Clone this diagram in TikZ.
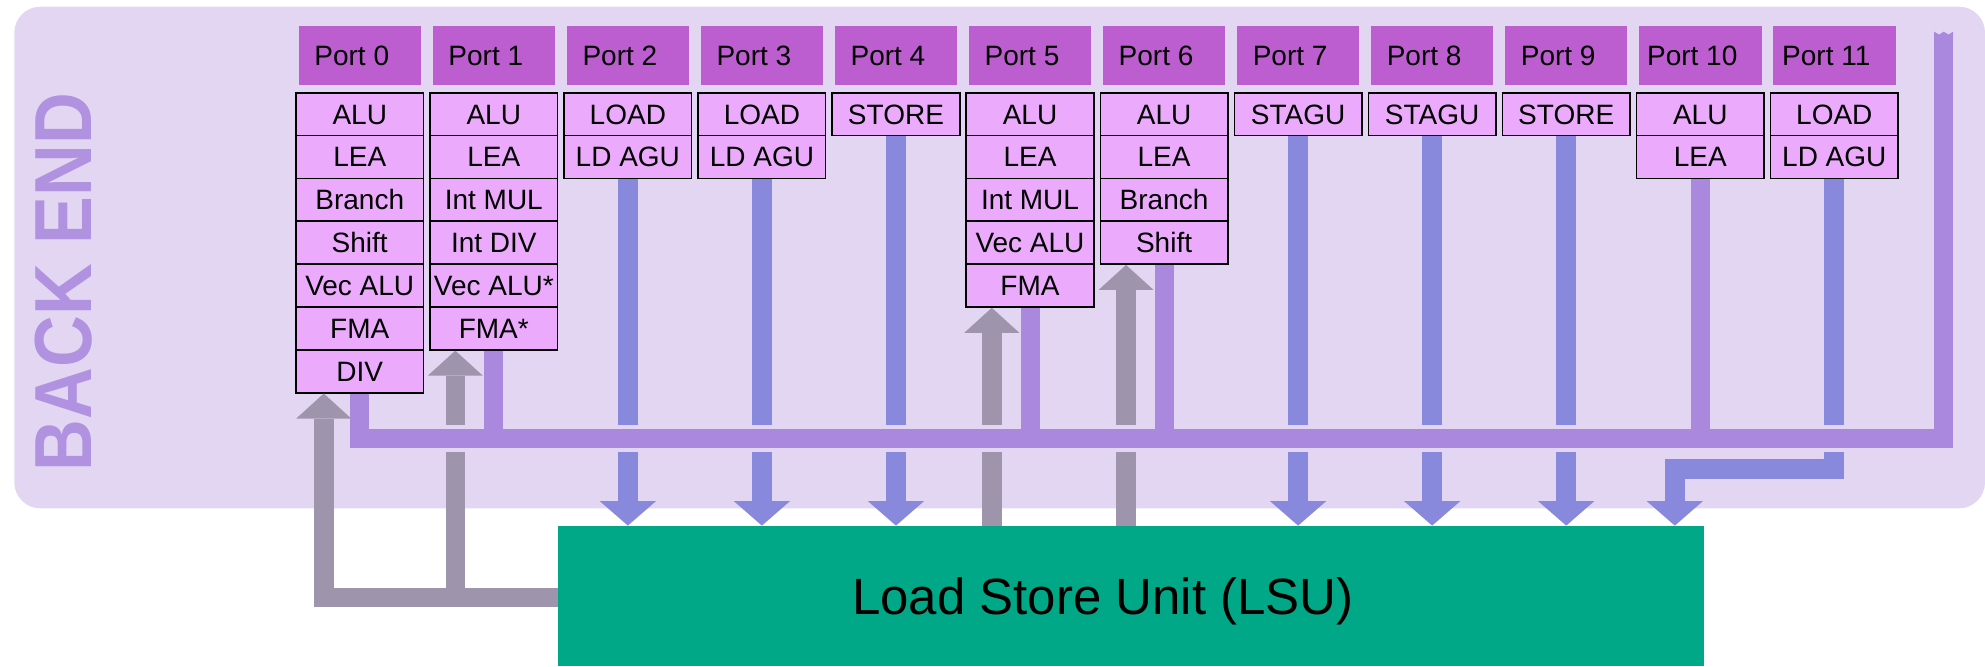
\documentclass[tikz,border=0pt]{standalone}
\usepackage{fontspec}
\usepackage{graphicx}
\setmainfont{Liberation Sans}
\usetikzlibrary{arrows.meta}

\definecolor{bgfill}{RGB}{227,214,242}
\definecolor{headfill}{RGB}{189,94,208}
\definecolor{unitfill}{RGB}{236,170,252}
\definecolor{loadblue}{RGB}{136,136,221}
\definecolor{buspurple}{RGB}{170,136,221}
\definecolor{retgray}{RGB}{158,148,172}
\definecolor{lsugreen}{RGB}{0,168,135}
\definecolor{titlepurple}{RGB}{176,146,224}

\tikzset{
  porthead/.style={fill=headfill, minimum width=61.25pt, minimum height=29.5pt,
    inner sep=0pt, text height=10pt, text depth=0pt,
    font=\fontsize{14pt}{16pt}\selectfont},
  unitcell/.style={fill=unitfill, draw=black, line width=0.8pt,
    minimum width=63.75pt, minimum height=21.43pt, inner sep=0pt,
    text height=10pt, text depth=0pt, font=\fontsize{14pt}{16pt}\selectfont},
  bluebar/.style={draw=loadblue, line width=10pt},
  bluearrow/.style={bluebar, -{Triangle[width=28pt,length=12.2pt,line width=0pt]}},
  busbar/.style={draw=buspurple, line width=9.5pt},
  graybar/.style={draw=retgray, line width=9.75pt},
  grayarrow/.style={graybar, -{Triangle[width=27.5pt,length=12.5pt,line width=0pt]}},
}

\begin{document}
\begin{tikzpicture}[x=0.5pt,y=-0.5pt]
\useasboundingbox (0,0) rectangle (1985,666);

% back-end panel and its title
\fill[bgfill, rounded corners=13pt] (14.3,6.7) rectangle (1985,508.3);
\node[rotate=90, text=titlepurple, inner sep=0pt,
      font=\fontsize{40.5pt}{44pt}\selectfont\bfseries] (backend) at (63.9,281.9)
  {\scalebox{0.885}[1]{BACK END}};

% execution ports and their units
\foreach \k/\units in {
  0/{ALU,LEA,Branch,Shift,Vec ALU,FMA,DIV},
  1/{ALU,LEA,Int MUL,Int DIV,Vec ALU*,FMA*},
  2/{LOAD,LD AGU},
  3/{LOAD,LD AGU},
  4/{STORE},
  5/{ALU,LEA,Int MUL,Vec ALU,FMA},
  6/{ALU,LEA,Branch,Shift},
  7/{STAGU},
  8/{STAGU},
  9/{STORE},
  10/{ALU,LEA},
  11/{LOAD,LD AGU}}{
  \node[porthead] (port\k) at ({359.75+134.05*\k},55.5) {Port \k\kern8pt};
  \foreach \u [count=\i from 0] in \units
    \node[unitcell] (u\k-\i) at ({359.75+134.05*\k},{92.7+42.857*(\i+0.5)}) {\u};
}

% load store unit
\node[fill=lsugreen, minimum width=573pt, minimum height=70pt, inner sep=0pt,
      text height=18.3pt, text depth=0pt,
      font=\fontsize{25.5pt}{30pt}\selectfont] (lsu) at (1131,596)
  {Load Store Unit (LSU)\kern28pt};

% helper positions
\coordinate (gapTop) at (0,424.7);
\coordinate (gapBot) at (0,452);
\coordinate (busRight) at (1943.7,438.5);
\coordinate (railTop) at (1943.7,35);
\coordinate (retRow) at (0,597.3);
\coordinate (jog) at (1674.8,469.4);

% result bus
\draw[busbar] (u0-6.south) |- (busRight) -- (railTop);
\fill[buspurple] (1934.2,36) -- (1934.2,31.7) -- (1938.95,34.6) -- (1943.7,31.7)
  -- (1948.45,34.6) -- (1953.2,31.7) -- (1953.2,36) -- cycle;
\foreach \n in {u1-5,u5-4,u6-3,u10-1}
  \draw[busbar] (\n.south) -- (\n.south |- busRight);

% address / store data paths into the LSU
\foreach \n in {u2-1,u3-1,u4-0,u7-0,u8-0,u9-0}{
  \draw[bluebar] (\n.south) -- (\n.south |- gapTop);
  \draw[bluearrow] (\n.south |- gapBot) -- (\n.south |- lsu.north);
}
\draw[bluebar] (u11-1.south) -- (u11-1.south |- gapTop);
\draw[bluearrow] (u11-1.south |- gapBot) |- (jog) -- (jog |- lsu.north);

% load data returning from the LSU
\coordinate (ret0) at ([xshift=-18pt]u0-6.south);
\coordinate (ret1) at ([xshift=-19.25pt]u1-5.south);
\coordinate (ret5) at ([xshift=-19.1pt]u5-4.south);
\coordinate (ret6) at ([xshift=-19pt]u6-3.south);
\draw[grayarrow] (lsu.west |- retRow) -| (ret0);
\draw[graybar] (ret1 |- retRow) -- (ret1 |- gapBot);
\draw[grayarrow] (ret1 |- gapTop) -- (ret1);
\foreach \n in {ret5,ret6}{
  \draw[graybar] (\n |- lsu.north) -- (\n |- gapBot);
  \draw[grayarrow] (\n |- gapTop) -- (\n);
}
\end{tikzpicture}
\end{document}
